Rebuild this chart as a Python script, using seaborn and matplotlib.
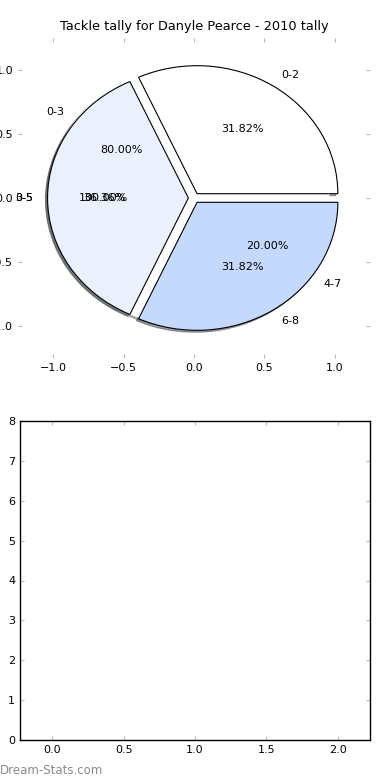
import matplotlib
matplotlib.use("Agg")
import matplotlib.pyplot as plt
import seaborn as sns

# three tallies drawn on the same pie axes (back to front)
labels_a = ['0-5']
values_a = [5]
labels_b = ['0-3', '4-7']
values_b = [8, 2]
labels_c = ['0-2', '3-5', '6-8']
values_c = [7, 8, 7]
slice_colors = ['#ffffff', '#eaf1fd', '#c5d9fd']

pie_ticks = [-1.0, -0.5, 0.0, 0.5, 1.0]
empty_xticks = [0.0, 0.5, 1.0, 1.5, 2.0]
empty_yticks = list(range(0, 9))

sns.set_style("white")
plt.rcParams['font.family'] = ['DejaVu Sans']

fig = plt.figure(figsize=(3.9, 7.8), dpi=100)
ax1 = fig.add_axes([18 / 390, 1 - 358 / 780, 352 / 390, 320 / 780])
ax2 = fig.add_axes([20 / 390, 1 - 740 / 780, 350 / 390, 319 / 780])

txt = dict(fontsize=8, color='black')
shd = dict(ox=-0.011, oy=-0.011)
hidden = dict(edgecolor='none', linewidth=0)
ax1.pie(values_a, labels=labels_a, autopct='%.2f%%', colors=['white'],
        shadow=shd, explode=[0.04], textprops=txt, wedgeprops=hidden)
ax1.pie(values_b, labels=labels_b, autopct='%.2f%%', colors=['white', 'white'],
        shadow=shd, explode=[0.04, 0.04], textprops=txt, wedgeprops=hidden)
ax1.pie(values_c, labels=labels_c, autopct='%.2f%%', colors=slice_colors,
        shadow=shd, explode=[0.04, 0.04, 0.04], textprops=txt,
        wedgeprops=dict(edgecolor='black', linewidth=0.8))

ax1.set_aspect('auto')
ax1.set_xlim(-1.25, 1.25)
ax1.set_ylim(-1.25, 1.25)
ax1.set_xticks(pie_ticks)
ax1.set_yticks(pie_ticks)
ax1.set_frame_on(False)
ax1.tick_params(direction='in', length=3, color='#bbbbbb', labelsize=8,
                labelcolor='black', bottom=True, top=True, left=True, right=True)
ax1.set_title('Tackle tally for Danyle Pearce - 2010 tally', fontsize=9.3,
              pad=6, color='black')

ax2.set_xlim(-0.225, 2.225)
ax2.set_ylim(0, 8)
ax2.set_xticks(empty_xticks)
ax2.set_yticks(empty_yticks)
for s in ax2.spines.values():
    s.set_color('black')
    s.set_linewidth(1)
ax2.tick_params(direction='in', length=3, color='#bbbbbb', labelsize=8,
                labelcolor='black', bottom=True, top=True, left=True, right=True)

fig.text(0.0, 1 - 770 / 780, 'Dream-Stats.com', fontsize=8.5, color='#8a8a8a',
         va='center', ha='left')

fig.savefig('out.png', dpi=100)
